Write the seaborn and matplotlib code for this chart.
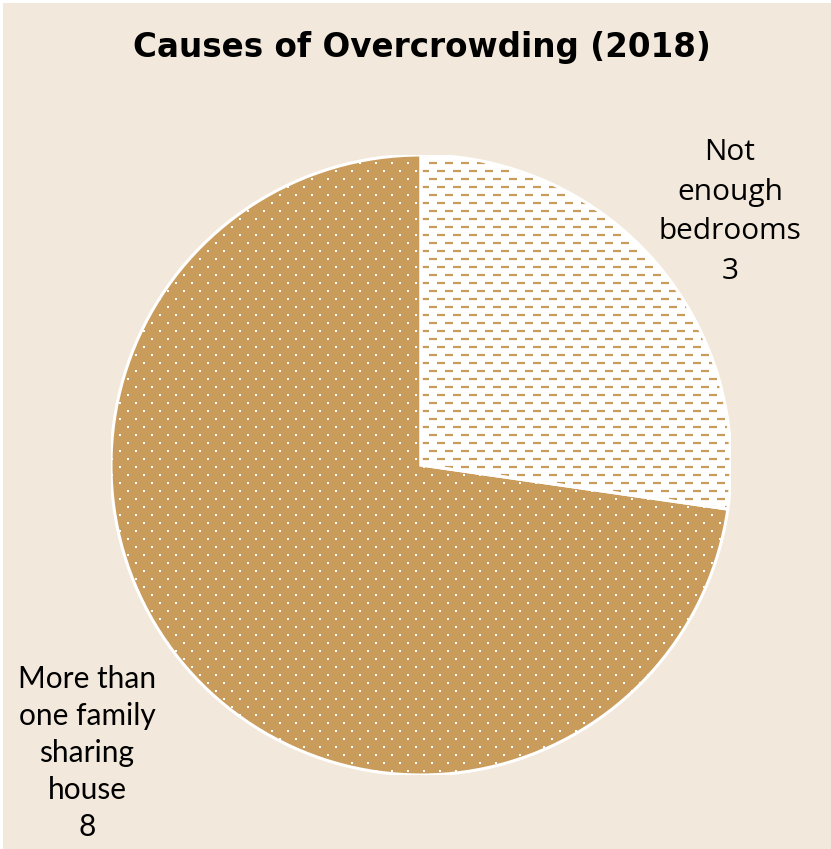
import numpy as np
import matplotlib
matplotlib.use("Agg")
import matplotlib.pyplot as plt
from matplotlib.collections import LineCollection
from matplotlib.patches import Wedge, Rectangle
import seaborn as sns

# Data
categories = ["Not\nenough\nbedrooms", "More than\none family\nsharing\nhouse"]
counts = [3, 8]
title = "Causes of Overcrowding (2018)"

BG = "#F2E8DB"
GOLD = "#C99C5C"

sns.set_theme(style="white")
plt.rcParams["font.family"] = ["Open Sans", "DejaVu Sans"]

W, H = 831, 849
fig = plt.figure(figsize=(W / 100, H / 100), dpi=100, facecolor="white")
# beige panel with a thin white rim on the top/left edges
fig.patches.append(Rectangle((3 / W, 0), 1, 1 - 3 / H, transform=fig.transFigure,
                             facecolor=BG, edgecolor="none", zorder=-5))

# pie geometry in pixels (from top-left)
cx, cy, R = 421, 465, 310
ax = fig.add_axes([(cx - R) / W, (H - cy - R) / H, 2 * R / W, 2 * R / H])
ax.set_axis_off()

wedges, _ = ax.pie(counts, startangle=90, counterclock=False, radius=1,
                   colors=["white", GOLD],
                   wedgeprops=dict(edgecolor="none", linewidth=0))
ax.set_xlim(-1, 1)
ax.set_ylim(-1, 1)

px = 1.0 / R  # one pixel in data units

# horizontal dashed texture on the white slice
segs = []
row = 0
for yy in np.arange(-R, R + 1, 8):
    off = 8 if row % 2 else 0
    for xx in np.arange(-R - 16 + off + 6, R + 16, 16):
        segs.append([(xx * px, -yy * px), ((xx + 8) * px, -yy * px)])
    row += 1
lc = LineCollection(segs, colors=GOLD, linewidths=1.6, capstyle="butt", zorder=2)
ax.add_collection(lc)
lc.set_clip_path(wedges[0])

# dotted texture on the gold slice
dx, dy = [], []
row = 0
for yy in np.arange(-R, R + 1, 8):
    off = 8 if row % 2 else 0
    for xx in np.arange(-R - 16 + off + 1, R + 16, 16):
        dx.append(xx * px)
        dy.append(-yy * px)
    row += 1
sc = ax.scatter(dx, dy, s=2.4, marker="s", c="white", linewidths=0, zorder=2)
sc.set_clip_path(wedges[1])

# white outlines drawn above the textures
for w in wedges:
    ax.add_patch(Wedge(w.center, w.r, w.theta1, w.theta2, facecolor="none",
                       edgecolor="white", linewidth=2.2, zorder=3))

fig.text(422 / W, 1 - 48 / H, title, ha="center", va="center",
         fontsize=23.5, fontweight="bold", color="black",
         family=["DejaVu Sans"])

ax.text((730 - cx) * px, (cy - 212) * px, f"{categories[0]}\n{counts[0]}",
        ha="center", va="center", fontsize=21.5, linespacing=1.48, color="black")
ax.text((87 - cx) * px, (cy - 753) * px, f"{categories[1]}\n{counts[1]}",
        ha="center", va="center", fontsize=21.5, linespacing=1.4, color="black",
        family=["Lato", "DejaVu Sans"])

fig.savefig("out.png", dpi=100, facecolor="white")
